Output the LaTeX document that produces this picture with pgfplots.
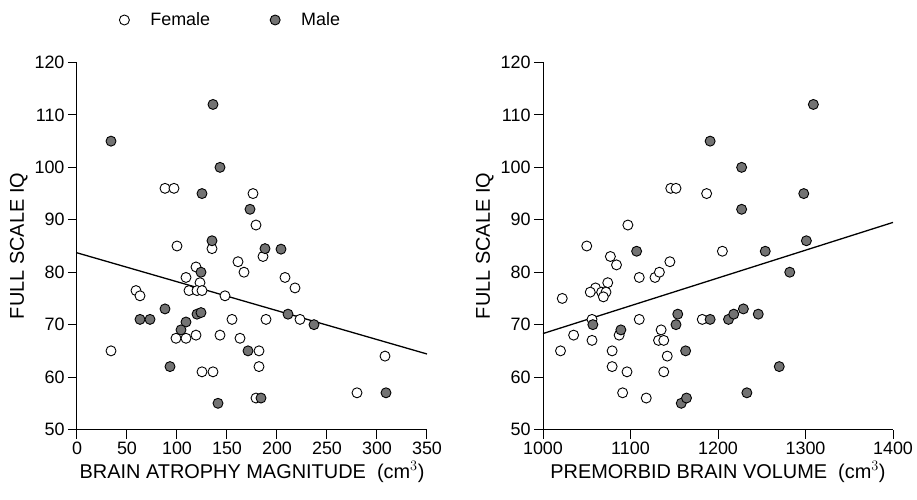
\documentclass[border=0pt]{standalone}
\usepackage{fontspec}
\setmainfont{Liberation Sans}
\usepackage{pgfplots}
\pgfplotsset{compat=1.18}

\pgfplotsset{
  brainax/.style={
    scale only axis, width=350bp, height=367bp,
    axis x line=bottom, axis y line=left,
    axis line style={-, line width=1bp},
    ymin=50, ymax=120, ytick={50,60,...,120},
    enlargelimits=false,
    tick align=outside, major tick length=9bp,
    tick style={line width=1bp, black},
    ticklabel style={font=\fontsize{18}{18}\selectfont},
    label style={font=\fontsize{20}{20}\selectfont},
    /pgf/number format/assume math mode=true,
    /pgf/number format/1000 sep={},
    scaled ticks=false,
    ylabel={FULL SCALE IQ},
    clip=false,
  },
  fem/.style={only marks, mark=*, mark size=5bp,
    mark options={fill=white, draw=black, line width=0.9bp}},
  mal/.style={only marks, mark=*, mark size=5bp,
    mark options={fill=black!55, draw=black, line width=0.9bp}},
  fitline/.style={black, line width=1.3bp, no marks},
}

\begin{document}
\begin{tikzpicture}
\path[use as bounding box] (-77bp,-70.5bp) rectangle (840bp,429.5bp);

% left panel: atrophy
\begin{axis}[brainax,
  at={(0,0)},
  xmin=0, xmax=350, xtick={0,50,...,350},
  xlabel={BRAIN ATROPHY MAGNITUDE~~(cm$^3$)},
  legend columns=2,
  legend style={at={(axis description cs:0.112,1.1158)}, anchor=west,
    draw=none, fill=none, font=\fontsize{18}{18}\selectfont,
    /tikz/every odd column/.append style={column sep=19bp},
    /tikz/every even column/.append style={column sep=58bp}},
]
\addplot[fem] coordinates {
 (88,96) (97,96) (176,95) (179,89) (100,85) (135,84.5) (186,83) (161,82)
 (119,81) (167,80) (109,79) (208,79) (123,78) (218,77) (112,76.5) (120,76.5)
 (125,76.5) (59,76.5) (63,75.5) (148,75.5) (155,71) (189,71) (223,71)
 (119,68) (143,68) (99,67.4) (109,67.4) (163,67.4) (34,65) (182,65) (308,64)
 (182,62) (125,61) (136,61) (280,57) (179,56)
};
\addlegendentry{Female}
\addplot[mal] coordinates {
 (136,112) (34,105) (143,100) (125,95) (173,92) (135,86) (188,84.5) (204,84.4)
 (124,80) (88,73) (63,71) (73,71) (120,72) (124,72.3) (109,70.5) (104,69)
 (211,72) (237,70) (171,65) (93,62) (141,55) (184,56) (309,57)
};
\addlegendentry{Male}
\addplot[fitline, forget plot] coordinates {(0,83.7) (350,64.4)};
\end{axis}

% right panel: premorbid volume
\begin{axis}[brainax,
  at={(466bp,0)},
  xmin=1000, xmax=1400, xtick={1000,1100,...,1400},
  xlabel={PREMORBID BRAIN VOLUME~~(cm$^3$)},
]
\addplot[fem] coordinates {
 (1146,96) (1152,96) (1187,95) (1097,89) (1050,85) (1077,83) (1084,81.4)
 (1145,82) (1205,84) (1110,79) (1128,79) (1133,80) (1022,75) (1060,77)
 (1074,78) (1054,76.2) (1067,76.2) (1072,76.2) (1069,75.3) (1056,71)
 (1110,71) (1182,71) (1035,68) (1056,67) (1087,68) (1135,69) (1132,67)
 (1138,67) (1020,65) (1079,65) (1142,64) (1079,62) (1096,61) (1138,61)
 (1091,57) (1118,56)
};
\addplot[mal] coordinates {
 (1191,105) (1309,112) (1227,100) (1298,95) (1227,92) (1301,86) (1107,84)
 (1254,84) (1282,80) (1154,72) (1152,70) (1191,71) (1212,71) (1218,72)
 (1229,73) (1246,72) (1057,70) (1089,69) (1163,65) (1270,62) (1233,57)
 (1158,55) (1164,56)
};
\addplot[fitline] coordinates {(1000,68.3) (1400,89.5)};
\end{axis}
\end{tikzpicture}
\end{document}
